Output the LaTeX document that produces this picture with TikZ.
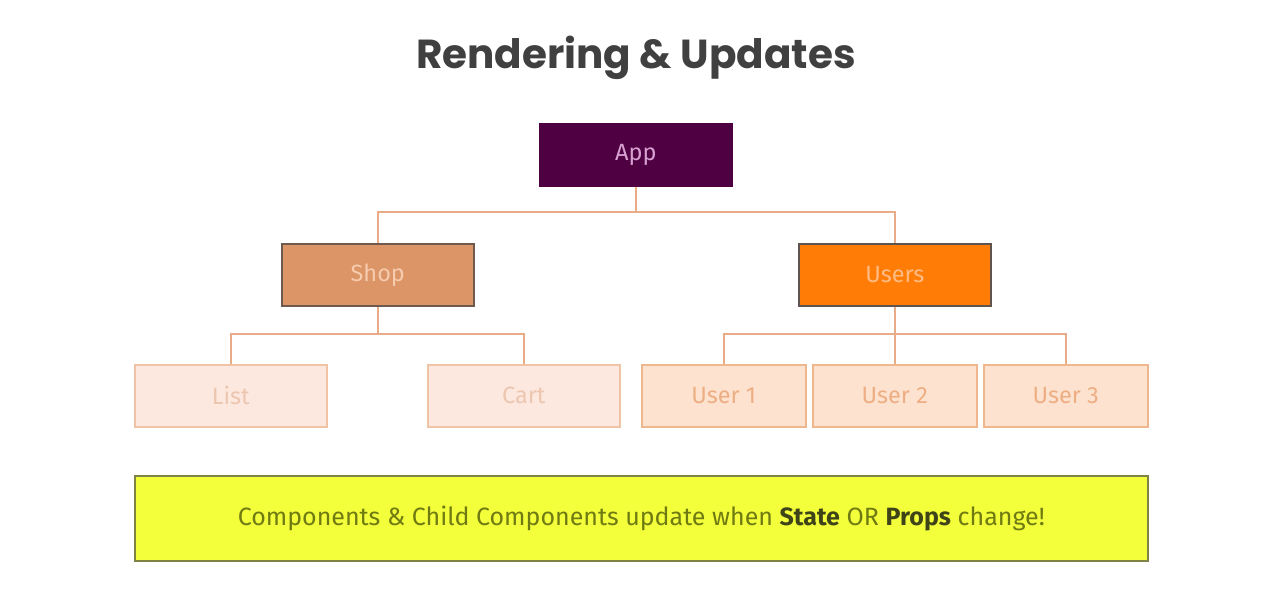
\documentclass[tikz,border=0pt]{standalone}
\usepackage{fontspec}
\setmainfont{Fira Sans}
\newfontfamily\titlefont{Poppins}
\begin{document}
\begin{tikzpicture}[x=1pt,y=-1pt,
  conn/.style={draw=lineC,line width=2pt},
  box/.style={rectangle,minimum width=192pt,minimum height=62pt,line width=1.6pt,font=\fontsize{23.5}{26}\selectfont,anchor=north west,inner sep=0pt},
  leafbox/.style={box,fill=leafF,draw=leafD,text=leafT},
  userbox/.style={box,minimum width=164pt,fill=userF,draw=userD,text=userT}]
\definecolor{lineC}{HTML}{E9AC86}
\definecolor{appF}{HTML}{4F0043}
\definecolor{appT}{HTML}{D7A0D0}
\definecolor{shopF}{HTML}{DB9566}
\definecolor{shopD}{HTML}{6E5A50}
\definecolor{shopT}{HTML}{F6CBAE}
\definecolor{usersF}{HTML}{FF7D06}
\definecolor{usersD}{HTML}{5E5450}
\definecolor{usersT}{HTML}{FFBB84}
\definecolor{leafF}{HTML}{FCE8DE}
\definecolor{leafD}{HTML}{F0C2A6}
\definecolor{leafT}{HTML}{EDC6B0}
\definecolor{userF}{HTML}{FDE3CF}
\definecolor{userD}{HTML}{F0B68E}
\definecolor{userT}{HTML}{EEAE84}
\definecolor{noteF}{HTML}{F3FF3A}
\definecolor{noteD}{HTML}{7F8446}
\definecolor{noteT}{HTML}{6F7A12}
\definecolor{noteB}{HTML}{3E4418}
\definecolor{titleC}{HTML}{404040}
\useasboundingbox[fill=white] (0,0) rectangle (1274,593);
\node[font=\titlefont\bfseries\fontsize{40.5}{44}\selectfont,text=titleC] (title) at (636,58) {Rendering \& Updates};
\node[box,fill=appF,draw=appF,text=appT] (app) at (539,123) {App};
\node[box,fill=shopF,draw=shopD,text=shopT] (shop) at (281,243) {Shop};
\node[box,fill=usersF,draw=usersD,text=usersT] (users) at (798,243) {Users};
\node[leafbox] (list) at (134,364) {List};
\node[leafbox] (cart) at (427,364) {Cart};
\node[userbox] (u1) at (641,364) {User 1};
\node[userbox] (u2) at (812,364) {User 2};
\node[userbox] (u3) at (983,364) {User 3};
\node[rectangle,anchor=north west,minimum width=1013pt,minimum height=85pt,fill=noteF,draw=noteD,line width=1.6pt,text=noteT,font=\fontsize{25}{28}\selectfont] (note) at (134,475) {Components \& Child Components update when \textcolor{noteB}{\textbf{State}} OR \textcolor{noteB}{\textbf{Props}} change!};
% levels of the bus lines
\coordinate (busA) at (0,212);
\coordinate (busB) at (0,334);
% connectors
\draw[conn] (app.south) -- (app.south |- busA);
\draw[conn] (shop.north) -- (shop.north |- busA) -- (users.north |- busA) -- (users.north);
\draw[conn] (shop.south) -- (shop.south |- busB);
\draw[conn] (list.north) -- (list.north |- busB) -- (cart.north |- busB) -- (cart.north);
\draw[conn] (users.south) -- (u2.north);
\draw[conn] (u1.north) -- (u1.north |- busB) -- (u3.north |- busB) -- (u3.north);
\end{tikzpicture}
\end{document}
